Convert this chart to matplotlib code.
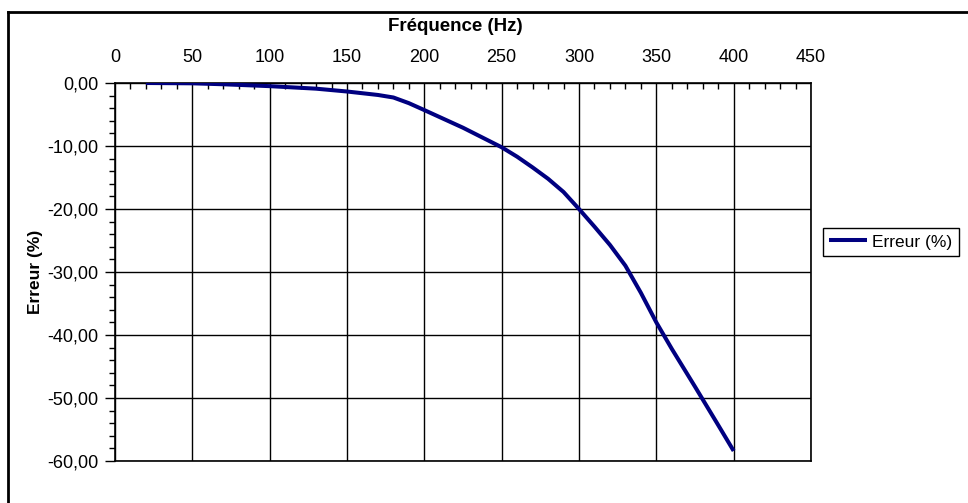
import matplotlib.pyplot as plt
from matplotlib.lines import Line2D
from matplotlib.ticker import MultipleLocator, FuncFormatter

plt.rcParams['font.family'] = ['Liberation Sans', 'DejaVu Sans']

# frequency (Hz) and measured error (%)
freq = [20, 50, 70, 100, 130, 150, 170, 180, 190, 200, 225, 250, 260, 270, 280, 290,
        300, 310, 320, 330, 340, 350, 360, 375, 390, 400]
erreur = [0.0, -0.05, -0.2, -0.5, -0.9, -1.35, -1.9, -2.3, -3.2, -4.3, -7.1, -10.2,
          -11.7, -13.4, -15.2, -17.3, -20.0, -22.8, -25.7, -29.0, -33.3, -38.0,
          -42.2, -48.2, -54.3, -58.4]

fig = plt.figure(figsize=(9.68, 5.03), dpi=100)
ax = fig.add_axes([115 / 968, 1 - 461 / 503, (811 - 115) / 968, (461 - 83) / 503])

ax.plot(freq, erreur, color='#000080', lw=2.9, solid_capstyle='butt', label='Erreur (%)', zorder=3)

ax.set_xlim(0, 450)
ax.set_ylim(-60, 0)

ax.xaxis.set_major_locator(MultipleLocator(50))
ax.xaxis.set_minor_locator(MultipleLocator(10))
ax.yaxis.set_major_locator(MultipleLocator(10))
ax.yaxis.set_minor_locator(MultipleLocator(2))
ax.yaxis.set_major_formatter(FuncFormatter(lambda v, p: f"{v:.2f}".replace('.', ',')))

ax.xaxis.tick_top()
ax.xaxis.set_label_position('top')
ax.tick_params(axis='x', which='major', direction='in', length=0, pad=12.5, labelsize=13)
ax.tick_params(axis='x', which='minor', direction='in', length=4, width=1, top=True, bottom=False)
ax.tick_params(axis='y', which='major', direction='out', length=7, width=1, pad=5, labelsize=13)
ax.tick_params(axis='y', which='minor', direction='out', length=4, width=1)

ax.grid(True, which='major', color='black', lw=1.0)
for s in ax.spines.values():
    s.set_color('black')
    s.set_linewidth(1.2)

ax.set_xlabel('Fréquence (Hz)', fontsize=13.5, fontweight='bold', labelpad=13,
              x=(455 - 115) / 696)
ax.set_ylabel('Erreur (%)', fontsize=12.5, fontweight='bold', labelpad=3)

leg = ax.legend(loc='center left', bbox_to_anchor=(823 / 968, 1 - 242 / 503),
                bbox_transform=fig.transFigure, fontsize=12.5, frameon=True,
                fancybox=False, framealpha=1, edgecolor='black',
                handlelength=2.2, handletextpad=0.3, borderpad=0.35, borderaxespad=0)
leg.get_frame().set_linewidth(1.0)

# chart area frame (top and left edges)
fig.add_artist(Line2D([8 / 968, 1.0], [1 - 12 / 503, 1 - 12 / 503], color='black', lw=2,
                      transform=fig.transFigure))
fig.add_artist(Line2D([8 / 968, 8 / 968], [0.0, 1 - 12 / 503], color='black', lw=2,
                      transform=fig.transFigure))

fig.savefig('out.png', dpi=100)
